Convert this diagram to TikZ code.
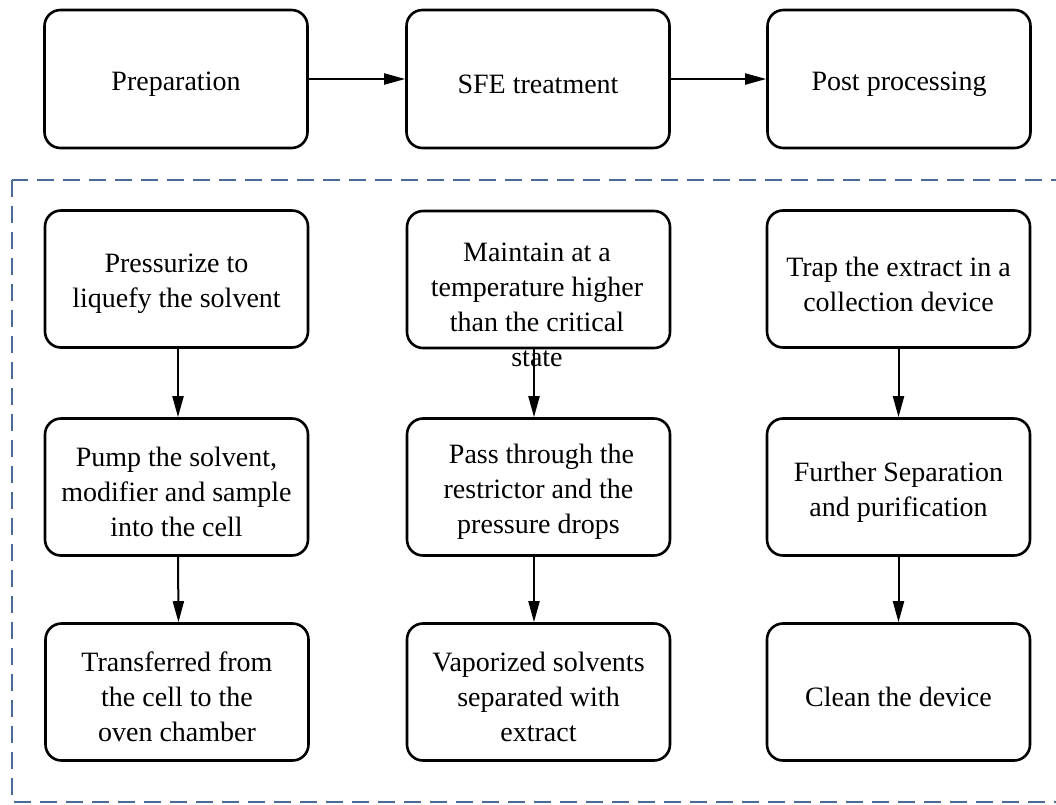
\documentclass[tikz,border=0pt]{standalone}
\usepackage{fontspec}
\setmainfont{Liberation Serif}
\usetikzlibrary{arrows.meta}
\definecolor{dashblue}{HTML}{4A6B9A}
\newcommand\stepnode[4][]{%
  \node[stepbox,#1] (#2) at (#3) {};
  \node[plaintext] (#2t) at ([yshift=-5pt]#2.center) {#4};}
\begin{document}
\begin{tikzpicture}[x=1pt,y=-1pt,
  stepbox/.style={draw, line width=2.6pt, rounded corners=16pt, minimum width=263pt, minimum height=137pt, inner sep=0pt},
  plaintext/.style={inner sep=0pt, align=center, font=\fontsize{28}{35}\selectfont},
  flow/.style={line width=2pt, -{Triangle[length=21pt,width=11pt]}},
  frame/.style={draw=dashblue, line width=2.8pt, dash pattern=on 17pt off 9pt}]
\clip (0,0) rectangle (1056,804);
\fill[white] (0,0) rectangle (1056,804);
% top row
\stepnode[minimum height=138pt]{prep}{176,79}{Preparation}
\stepnode[minimum height=138pt]{sfe}{538,79}{SFE treatment}
\stepnode[minimum height=138pt]{post}{899,79}{Post processing}
\draw[flow] (prep) -- (sfe);
\draw[flow] (sfe) -- (post);
% dashed frame
\draw[frame] (12,180) rectangle (1075,802);
% column 1
\stepnode{c1a}{176.5,279}{Pressurize to\\liquefy the solvent}
\stepnode{c1b}{176.5,487}{Pump the solvent,\\modifier and sample\\into the cell}
\stepnode{c1c}{177,692}{Transferred from\\the cell to the\\oven chamber}
% column 2
\node[stepbox] (c2a) at (538.5,279.5) {};
\node[plaintext] (c2at) at (537,305) {Maintain at a\\temperature higher\\than the critical\\state};
\stepnode{c2b}{538.5,487}{\hspace*{6pt}Pass through the\\restrictor and the\\pressure drops}
\stepnode{c2c}{538.5,692}{Vaporized solvents\\separated with\\extract}
% column 3
\stepnode{c3a}{898.5,279}{Trap the extract in a\\collection device}
\stepnode{c3b}{898.5,487}{Further Separation\\and purification}
\stepnode{c3c}{898.5,692}{Clean the device}
% arrows
\draw[flow] ([xshift=1.5pt]c1a.south) -- ([xshift=1.5pt]c1b.north);
\draw[flow] ([xshift=1.5pt]c1b.south) -- ([xshift=1.5pt]c1c.north);
\draw[flow] ([xshift=-4.5pt]c2a.south) -- ([xshift=-4.5pt]c2b.north);
\draw[flow] ([xshift=-4.5pt]c2b.south) -- ([xshift=-4.5pt]c2c.north);
\draw[flow] (c3a.south) -- (c3b.north);
\draw[flow] (c3b.south) -- (c3c.north);
\end{tikzpicture}
\end{document}
